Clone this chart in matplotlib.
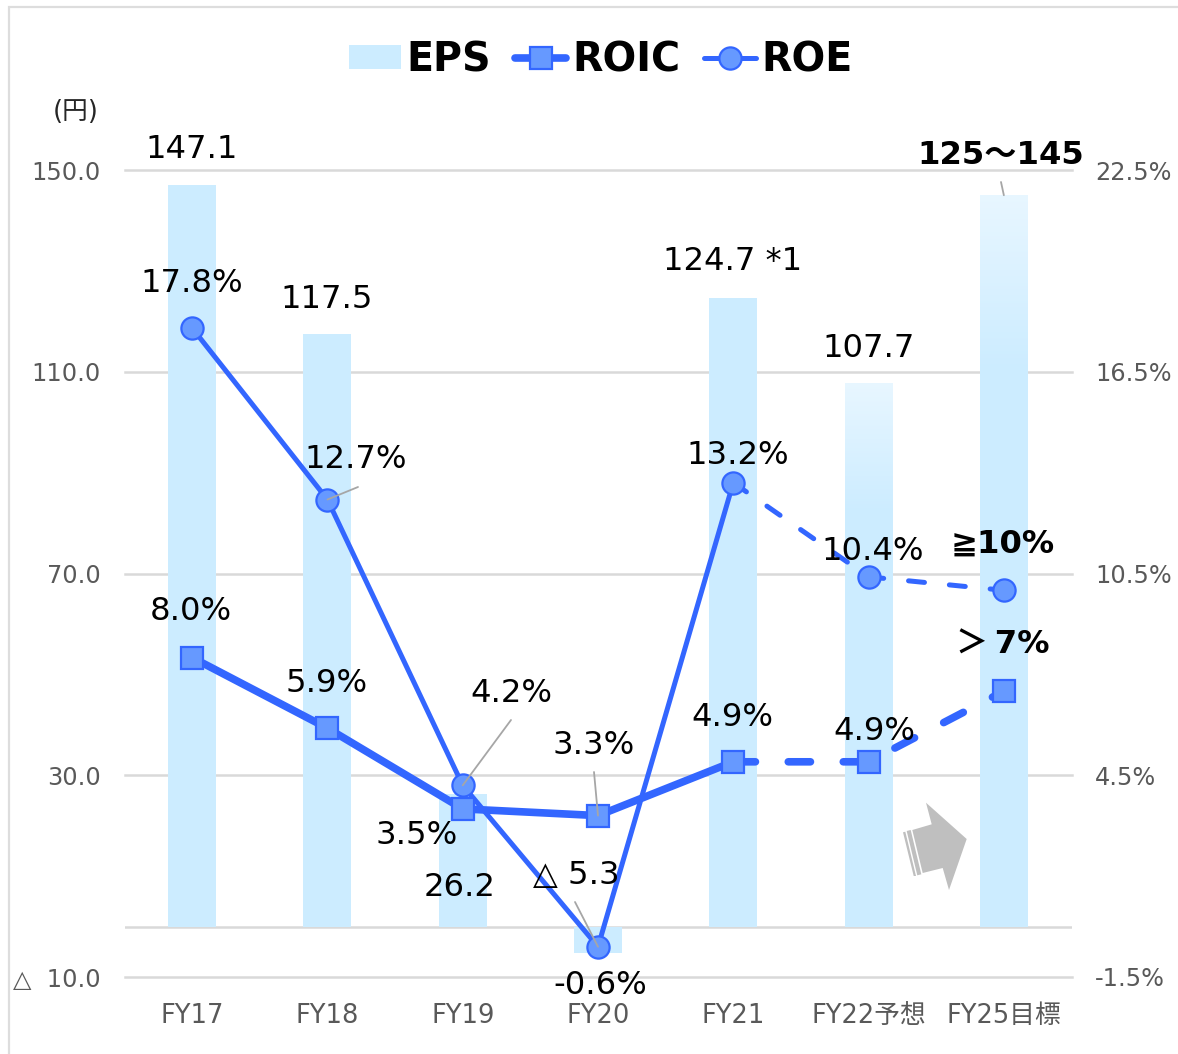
import numpy as np
import matplotlib
matplotlib.use("Agg")
import matplotlib.pyplot as plt
from matplotlib.lines import Line2D
from matplotlib.patches import Patch, Polygon, Rectangle

plt.rcParams["font.family"] = ["DejaVu Sans", "Noto Sans CJK JP"]

W, H = 1178, 1054
LINE = "#3366FF"
FACE = "#6699FF"
BAR = "#CCECFF"
GRID = "#D9D9D9"
TICK = "#595959"
LEAD = "#A6A6A6"

categories = ["FY17", "FY18", "FY19", "FY20", "FY21", "FY22予想", "FY25目標"]
eps = [147.1, 117.5, 26.2, -5.3, 124.7, 107.7, 145.0]
roic = [8.0, 5.9, 3.5, 3.3, 4.9, 4.9, 7.0]
roe = [17.8, 12.7, 4.2, -0.6, 13.2, 10.4, 10.0]
left_ticks = [-10, 30, 70, 110, 150]
left_labels = ["△  10.0", "30.0", "70.0", "110.0", "150.0"]
right_ticks = [-1.5, 4.5, 10.5, 16.5, 22.5]
right_labels = ["-1.5%", "4.5%", "10.5%", "16.5%", "22.5%"]
eps_labels = ["147.1", "117.5", "26.2", "△ 5.3", "124.7 *1", "107.7", "125～145"]
roic_labels = ["8.0%", "5.9%", "3.5%", "3.3%", "4.9%", "4.9%", "＞\u20097%"]
roe_labels = ["17.8%", "12.7%", "4.2%", "-0.6%", "13.2%", "10.4%", "≧10%"]

# label centres in pixels, measured on the picture
eps_pos = [(192, 150), (327, 299), (460, 888), (576, 876), (733, 262), (869, 349), (1001, 155)]
roic_pos = [(191, 612), (327, 683), (417, 835), (594, 746), (732, 717), (874, 731), (1003, 645)]
roe_pos = [(192, 283), (356, 459), (511, 693), (600, 986), (738, 456), (873, 552), (1003, 544)]


def px(x, y):
    return x / W, 1 - y / H


fig = plt.figure(figsize=(W / 100, H / 100), dpi=100, facecolor="white")
fig.add_artist(Rectangle(px(9, 1100), 1200 / W, 1093 / H, transform=fig.transFigure,
                         fc="none", ec="#DDDDDD", lw=1.6))

ax = fig.add_axes([124.5 / W, 1 - 977 / H, 947 / W, 807 / H])
xs = np.arange(len(categories))
bars = ax.bar(xs, eps, width=0.355, color=BAR, zorder=2)

# paler top on the forecast bars
fade = np.ones((400, 1, 4))
fade[:, 0, 3] = np.clip(0.55 * (1 - np.linspace(0, 1, 400) / 0.24), 0, 1)
for b in list(bars)[5:]:
    bb = b.get_bbox()
    ax.imshow(fade, extent=(bb.x0, bb.x1, bb.y0, bb.y1), aspect="auto", origin="upper", zorder=2.1)
ax.set_xlim(-0.5, len(categories) - 0.5)
ax.set_ylim(-10, 150)

ax.set_yticks(left_ticks, left_labels)
ax.set_xticks(xs, categories)
ax.yaxis.grid(True, color=GRID, lw=1.8)
ax.set_axisbelow(True)
ax.axhline(0, color=GRID, lw=1.8, zorder=1)
ax.tick_params(axis="y", length=0, pad=17, labelsize=17.3, labelcolor=TICK)
ax.tick_params(axis="x", length=0, pad=18.5, labelsize=18.5, labelcolor=TICK)
for s in ax.spines.values():
    s.set_visible(False)
    s.set_clip_on(False)
for g in ax.get_ygridlines():
    g.set_clip_on(False)

ax2 = ax.twinx()
ax2.set_ylim(-1.5, 22.5)
ax2.set_yticks(right_ticks, right_labels)
ax2.tick_params(axis="y", length=0, pad=17, labelsize=17.3, labelcolor=TICK)
for s in ax2.spines.values():
    s.set_visible(False)

marker = dict(ms=16, mfc=FACE, mec=LINE, mew=1.6, zorder=4)
ax2.plot(xs[:5], roic[:5], "-", color=LINE, lw=5.5, zorder=3, solid_capstyle="round")
ax2.plot(xs[4:], roic[4:], color=LINE, lw=5.5, zorder=3, dash_capstyle="round", dashes=(2.9, 4.3))
ax2.plot(xs, roic, "s", **marker)
ax2.plot(xs[:5], roe[:5], "-", color=LINE, lw=3.6, zorder=3, solid_capstyle="round")
ax2.plot(xs[4:], roe[4:], color=LINE, lw=3.6, zorder=3, dash_capstyle="round", dashes=(3.2, 5))
ax2.plot(xs, roe, "o", **marker)


def leader(i, val, axis, x, y):
    axis.annotate("", xy=(i, val), xycoords="data", xytext=px(x, y), textcoords="figure fraction",
                  arrowprops=dict(arrowstyle="-", color=LEAD, lw=1.3, shrinkA=0, shrinkB=0), zorder=6)


leader(1, roe[1], ax2, 358, 487)
leader(2, roe[2], ax2, 511, 720)
leader(3, roic[3], ax2, 594, 772)
leader(3, roe[3], ax2, 575, 902)
leader(6, eps[6], ax, 1001, 182)

for labels, pos in ((eps_labels, eps_pos), (roic_labels, roic_pos), (roe_labels, roe_pos)):
    for i, (t, p) in enumerate(zip(labels, pos)):
        fig.text(*px(*p), t, ha="center", va="center", fontsize=23.2, color="black",
                 fontweight="bold" if i == 6 else "normal", zorder=8)

fig.text(*px(76, 112), "(円)", ha="center", va="center", fontsize=18.5, color="#262626")

# grey block arrow
grey = "#BFBFBF"
arrow = [(966.7, 839), (926, 802.7), (931.7, 824.3), (912.3, 830), (922.7, 873), (942.7, 868), (949, 890)]
stripe1 = [(906.7, 831), (910.7, 830), (921.3, 874.3), (917.3, 875.3)]
stripe2 = [(903, 832.3), (905.3, 831.7), (916, 876), (913.7, 876)]
for pts in (arrow, stripe1, stripe2):
    fig.add_artist(Polygon([px(*p) for p in pts], closed=True, transform=fig.transFigure, fc=grey, ec="none"))

handles = [
    Patch(fc=BAR, ec="none"),
    Line2D([], [], color=LINE, lw=5.5, marker="s", ms=16, mfc=FACE, mec=LINE, mew=1.6, solid_capstyle="round"),
    Line2D([], [], color=LINE, lw=3.6, marker="o", ms=16, mfc=FACE, mec=LINE, mew=1.6, solid_capstyle="round"),
]
fig.legend(handles, ["EPS", "ROIC", "ROE"], loc="center", bbox_to_anchor=px(601, 60), ncol=3, frameon=False,
           prop=dict(size=28.5, weight="bold"), handlelength=1.3, handleheight=0.55,
           handletextpad=0.15, columnspacing=0.6, borderpad=0)

fig.savefig("out.png", dpi=100, facecolor="white")
